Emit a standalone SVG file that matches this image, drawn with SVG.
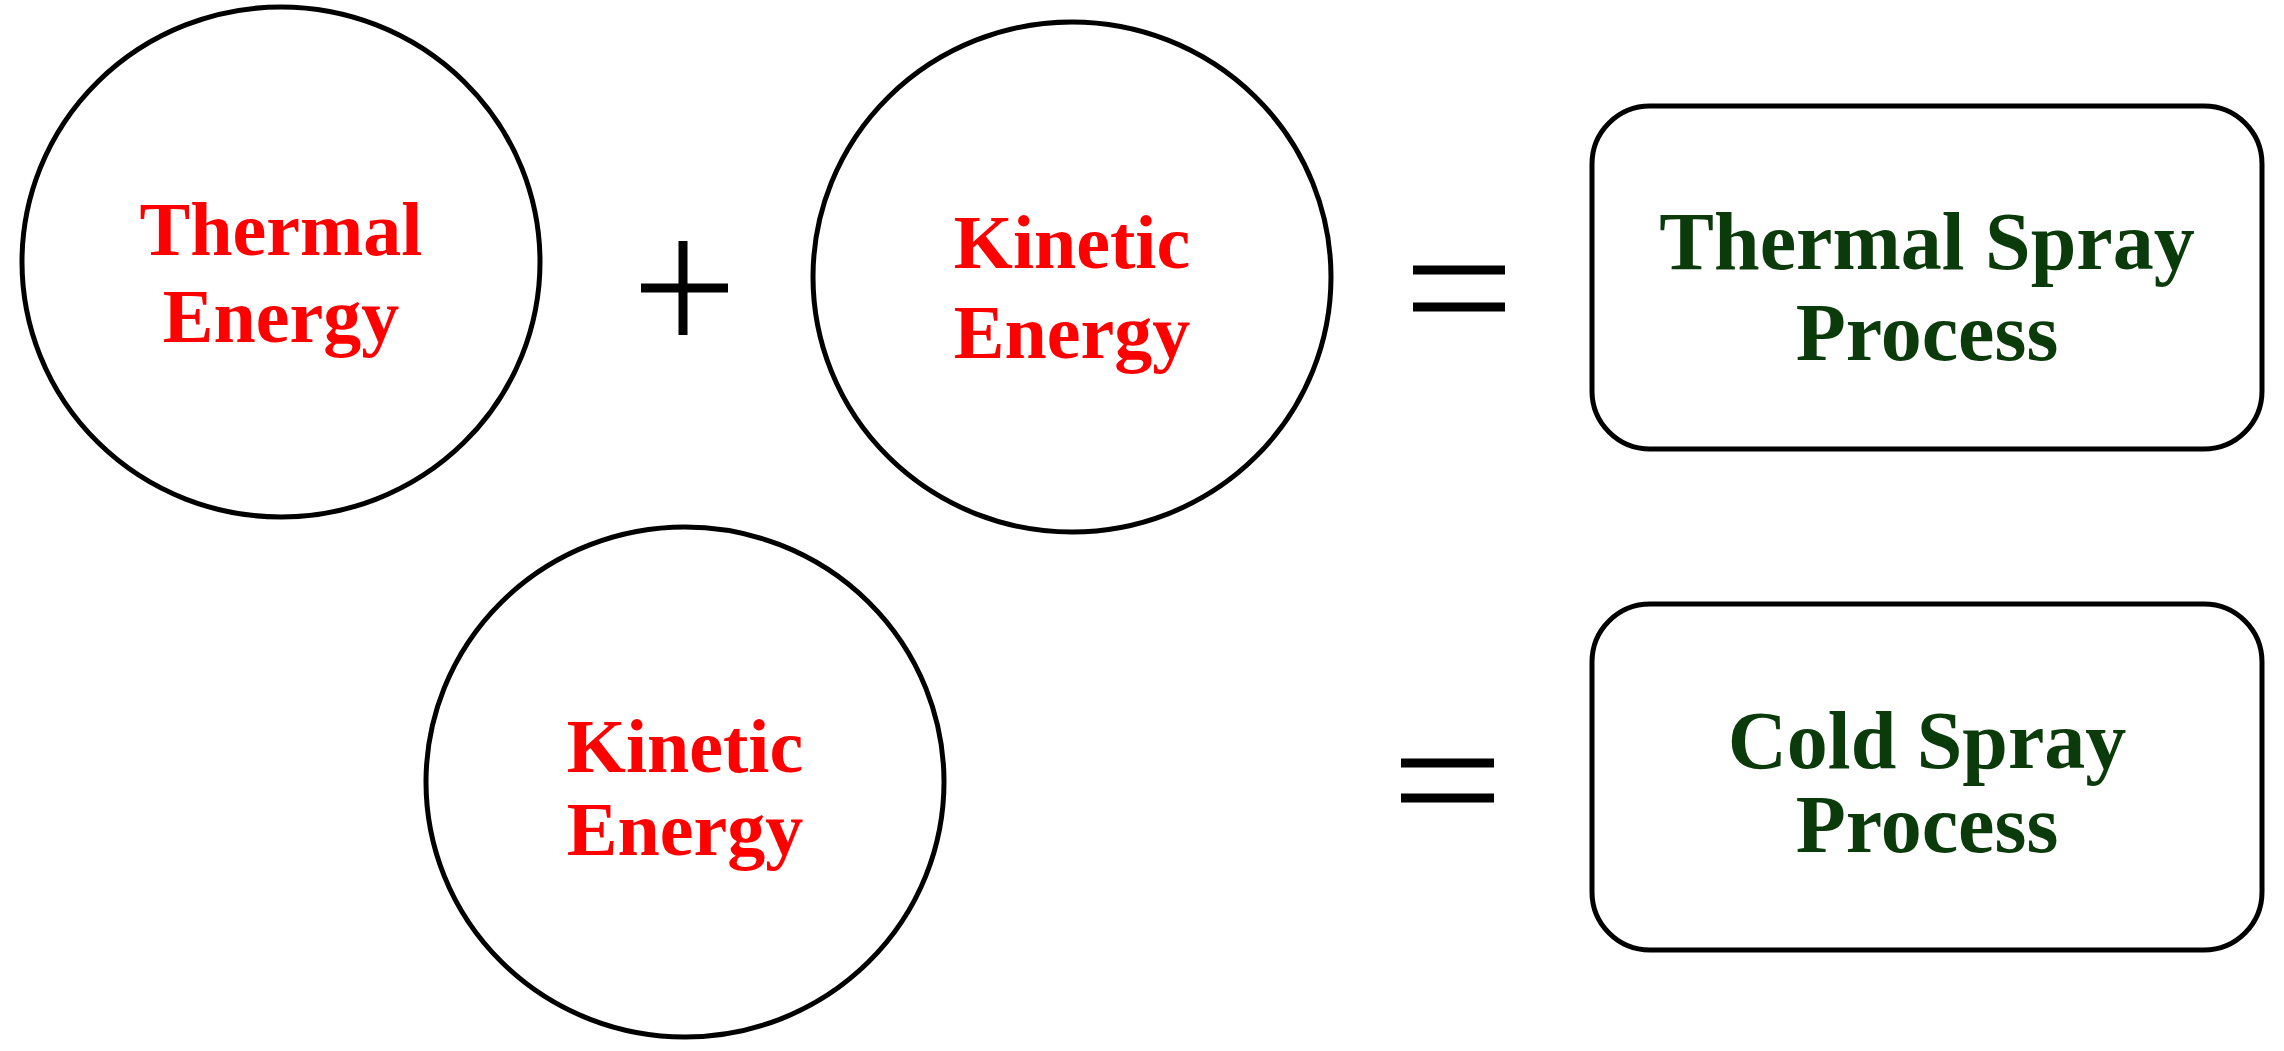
<svg xmlns="http://www.w3.org/2000/svg" width="2284" height="1051" viewBox="0 0 2284 1051">
<style>
.c{fill:none;stroke:#000;stroke-width:5}
.r{font-family:"Liberation Serif",serif;font-weight:bold;font-size:76px;fill:#ff0000;text-anchor:middle}
.g{font-family:"Liberation Serif",serif;font-weight:bold;font-size:82px;fill:#0b3b0b;text-anchor:middle}
.op{stroke:#000;stroke-width:9}
</style>
<rect width="2284" height="1051" fill="#fff"/>
<g id="thermal"><ellipse class="c" cx="281" cy="262" rx="259" ry="255"/><text class="r" x="281" y="255">Thermal</text><text class="r" x="281" y="342">Energy</text></g>
<g id="kinetic1"><ellipse class="c" cx="1072" cy="277" rx="259" ry="255"/><text class="r" x="1072" y="268">Kinetic</text><text class="r" x="1072" y="358">Energy</text></g>
<g id="kinetic2"><ellipse class="c" cx="685" cy="782" rx="259" ry="255"/><text class="r" x="685" y="772">Kinetic</text><text class="r" x="685" y="855">Energy</text></g>
<g id="plus"><line class="op" x1="641" y1="288" x2="728" y2="288"/><line class="op" x1="683" y1="241" x2="683" y2="335"/></g>
<g id="eq1"><line class="op" x1="1413" y1="270" x2="1505" y2="270"/><line class="op" x1="1413" y1="307" x2="1505" y2="307"/></g>
<g id="eq2"><line class="op" x1="1401" y1="763" x2="1494" y2="763"/><line class="op" x1="1401" y1="798" x2="1494" y2="798"/></g>
<g id="thermalspray"><rect class="c" x="1592" y="106" width="670" height="343" rx="58"/><text class="g" x="1927" y="269">Thermal Spray</text><text class="g" x="1927" y="360">Process</text></g>
<g id="coldspray"><rect class="c" x="1592" y="604" width="670" height="346" rx="58"/><text class="g" x="1927" y="768">Cold Spray</text><text class="g" x="1927" y="852">Process</text></g>
<g id="connectors"></g>
</svg>
